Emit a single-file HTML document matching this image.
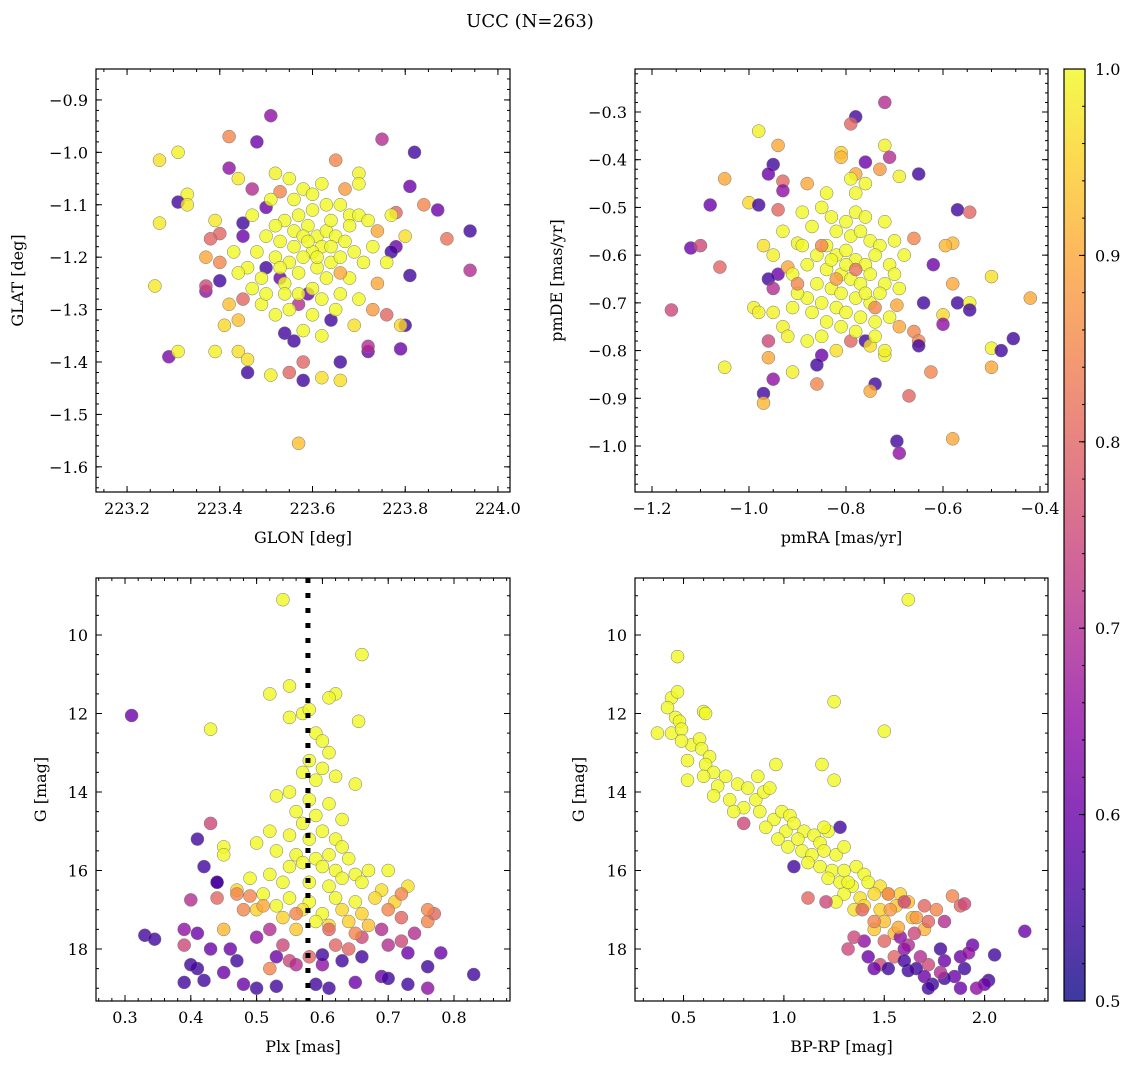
<!DOCTYPE html>
<html><head><meta charset="utf-8"><style>
html,body{margin:0;padding:0;background:#fff}
svg{display:block;font-family:"DejaVu Serif","Liberation Serif",serif}
</style></head><body>
<svg id="fig" width="1136" height="1068" viewBox="0 0 1136 1068" xmlns="http://www.w3.org/2000/svg">
<text x="530" y="27" font-size="18" text-anchor="middle">UCC (N=263)</text>
</svg>
<script>
// ---- data: [x, y, prob] (prob defaults to 1.0) ----
const posData = [
[223.51,-0.93,0.65],[223.75,-0.975,0.7],[223.42,-0.97,0.85],[223.48,-0.98,0.6],[223.27,-1.015,0.97],[223.31,-1.0,0.99],[223.82,-1.0,0.55],[223.65,-1.015,0.85],[223.42,-1.03,0.65],[223.52,-1.04,0.99],[223.70,-1.04,0.99],[223.44,-1.05,0.98],[223.33,-1.08,0.99],[223.81,-1.065,0.6],[223.31,-1.095,0.55],[223.33,-1.10,0.98],[223.53,-1.075,0.85],[223.47,-1.07,0.7],[223.50,-1.105,0.6],[223.84,-1.10,0.85],[223.87,-1.11,0.6],[223.78,-1.115,0.8],[223.27,-1.135,0.98],[223.39,-1.13,0.98],[223.45,-1.135,0.55],[223.94,-1.15,0.55],[223.89,-1.165,0.82],[223.40,-1.155,0.8],[223.38,-1.165,0.8],[223.45,-1.16,0.6],[223.78,-1.18,0.6],[223.80,-1.16,0.97],[223.37,-1.20,0.9],[223.40,-1.21,0.85],[223.77,-1.19,0.55],[223.94,-1.225,0.7],[223.26,-1.255,0.98],[223.37,-1.265,0.65],[223.37,-1.255,0.75],[223.40,-1.245,0.55],[223.50,-1.22,0.55],[223.53,-1.24,0.6],[223.81,-1.235,0.55],[223.80,-1.33,0.55],[223.73,-1.30,0.88],[223.76,-1.31,0.8],[223.59,-1.27,0.6],[223.57,-1.29,0.7],[223.45,-1.28,0.8],[223.42,-1.29,0.93],[223.41,-1.33,0.96],[223.44,-1.32,0.93],[223.79,-1.33,0.96],[223.64,-1.32,0.55],[223.69,-1.33,0.97],[223.54,-1.345,0.55],[223.56,-1.36,0.55],[223.39,-1.38,0.99],[223.44,-1.38,0.97],[223.46,-1.395,0.97],[223.29,-1.39,0.62],[223.31,-1.38,0.99],[223.72,-1.38,0.6],[223.72,-1.37,0.7],[223.79,-1.375,0.6],[223.66,-1.40,0.55],[223.58,-1.40,0.8],[223.46,-1.42,0.55],[223.51,-1.425,0.99],[223.55,-1.42,0.8],[223.58,-1.435,0.55],[223.62,-1.43,0.97],[223.66,-1.435,0.97],[223.57,-1.555,0.93],
[223.55,-1.05],[223.58,-1.07],[223.60,-1.08],[223.62,-1.06],[223.56,-1.09],[223.63,-1.10],[223.66,-1.10],[223.68,-1.12],[223.70,-1.12],[223.72,-1.13],[223.60,-1.11],[223.57,-1.12],[223.54,-1.13],[223.52,-1.14],[223.50,-1.16],[223.53,-1.17],[223.56,-1.15],[223.59,-1.14],[223.61,-1.16],[223.63,-1.15],[223.65,-1.16],[223.67,-1.17],[223.62,-1.18],[223.60,-1.19],[223.58,-1.20],[223.55,-1.21],[223.52,-1.20],[223.48,-1.19],[223.46,-1.22],[223.49,-1.24],[223.54,-1.25],[223.57,-1.23],[223.61,-1.22],[223.64,-1.21],[223.66,-1.20],[223.69,-1.19],[223.71,-1.21],[223.73,-1.18],[223.63,-1.24],[223.60,-1.26],[223.57,-1.27],[223.62,-1.28],[223.66,-1.27],[223.68,-1.24],[223.65,-1.30],[223.60,-1.31],[223.55,-1.30],[223.52,-1.31],[223.49,-1.29],[223.47,-1.26],[223.44,-1.23],[223.43,-1.19],[223.47,-1.12],[223.51,-1.09],[223.58,-1.16],[223.64,-1.13],[223.74,-1.25,0.9],[223.70,-1.28],[223.58,-1.34],[223.62,-1.35],[223.53,-1.22],[223.59,-1.17],[223.61,-1.20],[223.66,-1.23,0.9],[223.68,-1.14],[223.56,-1.18],[223.54,-1.27],[223.50,-1.27],[223.70,-1.06],[223.67,-1.07,0.88],[223.76,-1.21],[223.74,-1.15,0.9],[223.77,-1.12],[223.64,-1.18]
];
const pmData = [
[-0.78,-0.31,0.55],[-0.72,-0.28,0.7],[-0.79,-0.325,0.8],[-0.98,-0.34,0.99],[-0.94,-0.37,0.9],[-0.81,-0.385,0.95],[-0.81,-0.395,0.92],[-0.72,-0.37,0.99],[-0.71,-0.395,0.7],[-0.95,-0.41,0.55],[-0.96,-0.43,0.6],[-0.76,-0.405,0.6],[-0.65,-0.43,0.55],[-0.69,-0.435,0.99],[-1.05,-0.44,0.9],[-0.93,-0.445,0.8],[-0.78,-0.43,0.9],[-0.93,-0.465,0.65],[-0.88,-0.45,0.9],[-1.08,-0.495,0.6],[-1.0,-0.49,0.96],[-0.98,-0.495,0.55],[-0.57,-0.505,0.55],[-0.545,-0.51,0.8],[-0.94,-0.505,0.8],[-1.12,-0.585,0.6],[-1.10,-0.58,0.75],[-1.06,-0.625,0.8],[-0.97,-0.58,0.97],[-0.94,-0.64,0.6],[-0.96,-0.65,0.55],[-0.62,-0.62,0.6],[-0.66,-0.565,0.85],[-0.58,-0.575,0.92],[-0.595,-0.58,0.92],[-0.5,-0.645,0.97],[-0.58,-0.66,0.9],[-0.57,-0.70,0.55],[-0.545,-0.70,0.99],[-0.545,-0.715,0.55],[-0.6,-0.725,0.96],[-0.6,-0.745,0.65],[-0.64,-0.70,0.55],[-0.695,-0.705,0.9],[-0.66,-0.76,0.85],[-0.65,-0.78,0.85],[-0.65,-0.79,0.55],[-0.5,-0.795,0.99],[-0.48,-0.80,0.55],[-0.455,-0.775,0.55],[-0.42,-0.69,0.9],[-0.5,-0.835,0.9],[-0.625,-0.845,0.85],[-0.74,-0.87,0.55],[-0.75,-0.885,0.9],[-0.67,-0.895,0.8],[-0.58,-0.985,0.9],[-0.695,-0.99,0.55],[-0.69,-1.015,0.65],[-1.16,-0.715,0.75],[-1.05,-0.835,0.99],[-0.97,-0.89,0.55],[-0.97,-0.91,0.92],[-0.95,-0.86,0.65],[-0.96,-0.815,0.9],[-0.96,-0.78,0.75],[-0.95,-0.72,0.99],[-0.99,-0.71,0.99],[-0.98,-0.72,0.99],[-0.91,-0.845,0.99],[-0.86,-0.87,0.85],[-0.85,-0.81,0.6],[-0.86,-0.83,0.55],[-0.82,-0.80,0.97],[-0.72,-0.81,0.99],[-0.72,-0.80,0.99],[-0.76,-0.78,0.55],[-0.75,-0.79,0.97],[-0.79,-0.78,0.8],[-0.95,-0.67,0.7],[-0.95,-0.60,0.99],[-0.92,-0.625,0.9],[-0.90,-0.575,0.99],[-0.93,-0.75,0.99],[-0.92,-0.77,0.99],
[-0.85,-0.50],[-0.83,-0.52],[-0.80,-0.53],[-0.78,-0.51],[-0.76,-0.52],[-0.82,-0.55],[-0.79,-0.56],[-0.77,-0.55],[-0.75,-0.57],[-0.73,-0.58],[-0.84,-0.58],[-0.86,-0.60],[-0.82,-0.60],[-0.80,-0.59],[-0.78,-0.61],[-0.76,-0.62],[-0.74,-0.60],[-0.71,-0.62],[-0.88,-0.62],[-0.84,-0.63],[-0.81,-0.64],[-0.79,-0.65],[-0.77,-0.66],[-0.75,-0.64],[-0.72,-0.66],[-0.70,-0.64],[-0.86,-0.66],[-0.83,-0.67],[-0.81,-0.68],[-0.78,-0.69],[-0.75,-0.70],[-0.73,-0.68],[-0.88,-0.69],[-0.85,-0.70],[-0.82,-0.71],[-0.80,-0.72],[-0.77,-0.73],[-0.74,-0.74],[-0.84,-0.74],[-0.81,-0.75],[-0.78,-0.76],[-0.87,-0.72],[-0.90,-0.68],[-0.91,-0.64],[-0.89,-0.58],[-0.87,-0.54],[-0.84,-0.47],[-0.78,-0.47],[-0.76,-0.45],[-0.79,-0.44],[-0.72,-0.53],[-0.70,-0.57],[-0.68,-0.60],[-0.69,-0.67],[-0.71,-0.73],[-0.74,-0.77],[-0.85,-0.77],[-0.88,-0.78],[-0.91,-0.71],[-0.93,-0.55],[-0.89,-0.51],[-0.80,-0.62],[-0.83,-0.61],[-0.76,-0.68],
[-0.85,-0.58,0.85],[-0.82,-0.65,0.88],[-0.74,-0.71,0.85],[-0.78,-0.63,0.82],[-0.90,-0.66,0.85],[-0.69,-0.75,0.9],[-0.73,-0.42,0.88]
];
const plxData = [
[0.54,9.1],[0.66,10.5],[0.55,11.3],[0.52,11.5],[0.62,11.5],[0.61,11.6],[0.55,12.1],[0.57,12.0],[0.58,11.9],[0.655,12.2],[0.43,12.4],[0.59,12.5],[0.60,12.7],[0.61,13.0],[0.58,13.2],[0.60,13.4],[0.57,13.5],[0.59,13.7],[0.62,13.6],[0.65,13.8],[0.55,14.0],[0.53,14.1],[0.58,14.2],[0.61,14.3],[0.56,14.5],[0.59,14.6],[0.63,14.7],[0.57,14.8],[0.52,15.0],[0.55,15.1],[0.58,15.2],[0.60,15.0],[0.62,15.2],[0.63,15.4],[0.50,15.3],[0.45,15.4],[0.53,15.5],[0.56,15.6],[0.59,15.7],[0.61,15.6],[0.64,15.7],[0.57,15.8],[0.55,15.9],[0.60,15.9],[0.62,16.0],[0.65,16.1],[0.67,16.0],[0.70,16.0],[0.52,16.1],[0.49,16.2],[0.54,16.3],[0.58,16.3],[0.61,16.4],[0.63,16.2],[0.66,16.3],[0.69,16.5,0.97],[0.73,16.4,0.97],[0.47,16.5,0.96],[0.51,16.6],[0.55,16.7],[0.58,16.8],[0.62,16.7],[0.65,16.8],[0.68,16.7,0.96],[0.71,16.8,0.95],[0.53,16.9],[0.57,17.0,0.97],[0.60,17.1],[0.63,17.0,0.96],[0.66,17.1,0.95],[0.50,17.0,0.95],[0.54,17.2,0.95],[0.59,17.3],[0.61,17.4,0.96],[0.64,17.3,0.95],[0.56,17.5,0.94],[0.67,17.4,0.93],[0.45,15.6],[0.44,16.3,0.6],
[0.31,12.05,0.6],[0.43,14.8,0.75],[0.41,15.2,0.55],[0.42,15.9,0.55],[0.44,16.3,0.55],[0.44,16.7,0.8],[0.40,16.75,0.7],[0.47,16.6,0.85],[0.49,16.65,0.85],[0.48,17.0,0.85],[0.45,17.5,0.92],[0.39,17.5,0.65],[0.41,17.6,0.6],[0.39,17.9,0.75],[0.33,17.65,0.55],[0.345,17.75,0.55],[0.43,18.0,0.6],[0.46,18.0,0.6],[0.50,17.7,0.65],[0.52,17.5,0.7],[0.54,17.9,0.75],[0.53,18.2,0.6],[0.55,18.3,0.75],[0.56,18.4,0.7],[0.52,18.5,0.85],[0.47,18.3,0.55],[0.45,18.6,0.6],[0.41,18.5,0.55],[0.40,18.4,0.55],[0.42,18.8,0.55],[0.39,18.85,0.55],[0.48,18.9,0.6],[0.50,19.0,0.55],[0.53,18.95,0.55],[0.58,18.2,0.8],[0.60,18.4,0.65],[0.60,18.15,0.55],[0.62,17.9,0.8],[0.64,18.0,0.8],[0.63,18.3,0.55],[0.66,17.7,0.75],[0.66,18.2,0.55],[0.69,17.5,0.7],[0.70,17.9,0.7],[0.72,17.8,0.75],[0.73,18.1,0.6],[0.74,17.6,0.7],[0.76,17.3,0.85],[0.77,17.1,0.8],[0.76,17.0,0.85],[0.78,18.1,0.6],[0.72,17.2,0.8],[0.72,16.6,0.85],[0.70,17.0,0.85],[0.69,18.7,0.6],[0.70,18.75,0.55],[0.73,18.9,0.55],[0.76,19.0,0.65],[0.76,18.45,0.55],[0.83,18.65,0.55],[0.59,18.9,0.55],[0.61,19.0,0.55],[0.65,18.85,0.6],[0.61,17.5,0.8],[0.65,17.6,0.85],[0.56,17.1,0.85],[0.51,16.9,0.9]
];
const cmdData = [
[1.62,9.1],[0.47,10.55],[0.44,11.6],[0.47,11.45],[0.42,11.85],[1.25,11.7],[0.60,11.95],[0.61,12.0],[0.46,12.1],[0.48,12.2],[0.37,12.5],[0.44,12.5],[0.49,12.4],[1.50,12.45],[0.54,12.8],[0.58,12.65],[0.49,12.7],[0.59,12.9],[0.63,13.1],[0.61,13.3],[0.52,13.2],[0.96,13.3],[1.19,13.3],[0.65,13.5],[0.71,13.6],[0.77,13.8],[0.60,13.6],[0.67,13.85],[0.52,13.7],[1.25,13.7],[0.87,13.6],[0.82,13.9],[0.65,14.1],[0.73,14.2],[0.80,14.4],[0.86,14.2],[0.90,14.0],[0.93,13.9],[0.88,14.5],[0.75,14.5],[0.95,14.7],[0.99,14.5],[1.03,14.6],[0.91,14.9],[1.01,15.0],[1.05,14.8],[1.10,15.0],[0.97,15.2],[1.07,15.2],[1.15,15.1],[1.18,15.3],[1.22,15.0],[1.20,14.9],[1.02,15.4],[1.09,15.5],[1.14,15.6],[1.20,15.5],[1.26,15.6],[1.30,15.4],[1.12,15.8],[1.18,15.9],[1.24,16.0],[1.30,16.0],[1.36,15.9],[1.40,16.1],[1.22,16.2],[1.28,16.3],[1.34,16.4],[1.42,16.3],[1.48,16.4,0.97],[1.30,16.6],[1.38,16.7,0.97],[1.45,16.6,0.96],[1.52,16.6,0.95],[1.58,16.6,0.95],[1.40,16.9,0.96],[1.48,17.0,0.95],[1.56,16.9,0.94],[1.62,16.8,0.93],[1.35,17.0,0.97],[1.50,17.3,0.93],[1.64,17.2,0.93],[1.70,17.5,0.92],[1.55,17.6,0.92],[1.45,17.5,0.94],[1.32,16.3],[1.26,16.8],
[0.80,14.8,0.75],[1.05,15.9,0.55],[1.12,16.7,0.8],[1.21,16.8,0.75],[1.28,14.9,0.55],[1.39,17.0,0.8],[1.45,17.3,0.85],[1.52,16.6,0.85],[1.60,16.8,0.75],[1.70,16.9,0.8],[1.76,17.0,0.85],[1.84,16.65,0.85],[1.88,16.9,0.8],[1.80,17.3,0.7],[1.90,16.85,0.75],[1.72,17.3,0.8],[1.65,17.6,0.75],[1.62,17.9,0.7],[1.58,17.7,0.65],[1.50,17.8,0.8],[1.40,17.8,0.65],[1.35,17.7,0.75],[1.32,18.0,0.75],[1.42,18.2,0.6],[1.48,18.4,0.75],[1.55,18.2,0.8],[1.60,18.0,0.65],[1.68,18.2,0.7],[1.72,18.4,0.75],[1.78,18.0,0.55],[1.80,18.3,0.6],[1.85,18.7,0.6],[1.90,18.5,0.55],[1.88,18.2,0.6],[1.94,17.9,0.6],[1.92,18.1,0.65],[2.05,18.15,0.55],[2.20,17.55,0.6],[2.02,18.8,0.55],[2.00,18.9,0.6],[1.96,19.0,0.65],[1.88,19.0,0.6],[1.80,18.75,0.55],[1.74,18.9,0.55],[1.70,18.7,0.6],[1.66,18.5,0.55],[1.62,18.55,0.55],[1.52,18.5,0.55],[1.45,18.5,0.6],[1.72,19.0,0.55],[1.78,18.6,0.7],[1.60,18.3,0.55],[1.53,17.0,0.88],[1.57,17.45,0.9],[1.66,17.2,0.88]
];
const plxLineValue = 0.578;
const tlXTicks = [223.2,223.4,223.6,223.8,224.0];
const tlYTicks = [-0.9,-1.0,-1.1,-1.2,-1.3,-1.4,-1.5,-1.6];
const trXTicks = [-1.2,-1.0,-0.8,-0.6,-0.4];
const trYTicks = [-0.3,-0.4,-0.5,-0.6,-0.7,-0.8,-0.9,-1.0];
const blXTicks = [0.3,0.4,0.5,0.6,0.7,0.8];
const magTicks = [10,12,14,16,18];
const brXTicks = [0.5,1.0,1.5,2.0];
const cbTicks = [0.5,0.6,0.7,0.8,0.9,1.0];

const NS='http://www.w3.org/2000/svg';
const svg=document.getElementById('fig');
function mk(tag,attrs,parent){const e=document.createElementNS(NS,tag);for(const k in attrs)e.setAttribute(k,attrs[k]);(parent||svg).appendChild(e);return e;}
const stops=['#0d0887','#41049d','#6a00a8','#8f0da4','#b12a90','#cc4778','#e16462','#f2844b','#fca636','#fcce25','#f0f921'];
function hex(h){return [1,3,5].map(i=>parseInt(h.substr(i,2),16));}
function plasma(t){t=Math.max(0,Math.min(1,t));const f=t*10,i=Math.min(9,Math.floor(f)),r=f-i;const a=hex(stops[i]),b=hex(stops[i+1]);return 'rgb('+a.map((v,k)=>Math.round(v+(b[k]-v)*r)).join(',')+')';}
const VMIN=0.5,VMAX=1.0;
function fmt(v,d){const s=Math.abs(v).toFixed(d);return (v<0?'\u2212':'')+s;}

function panel(name,box,xd,yd,xt,xm,xdec,yt,ym,ydec,xl,yl,data,ylx){
  const [L,T,R,B]=box;
  const sx=v=>L+(v-xd[0])/(xd[1]-xd[0])*(R-L);
  const sy=v=>T+(v-yd[0])/(yd[1]-yd[0])*(B-T);
  const g=mk('g',{});
  
  
  const clip=mk('clipPath',{id:'c'+name},g);mk('rect',{x:L,y:T,width:R-L,height:B-T},clip);
  const pts=mk('g',{'clip-path':'url(#c'+name+')'},g);
  data.forEach(d=>{const p=d.length>2?d[2]:1.0;
    const c=mk('circle',{cx:sx(d[0]).toFixed(1),cy:sy(d[1]).toFixed(1),r:6.5,fill:plasma((p-VMIN)/(VMAX-VMIN)),'fill-opacity':0.8,stroke:'#777','stroke-width':0.5},pts);
    
    
  });
  g.sx=sx;g.sy=sy;
  const ax=mk('g',{stroke:'#000','stroke-width':1},g);
  const xlo=Math.min(...xd),xhi=Math.max(...xd),ylo=Math.min(...yd),yhi=Math.max(...yd);
  for(let v=Math.ceil(xlo/xm-1e-6)*xm;v<=xhi+1e-9;v+=xm){const x=sx(v);mk('line',{x1:x,x2:x,y1:B,y2:B-3},ax);mk('line',{x1:x,x2:x,y1:T,y2:T+3},ax);}
  for(let v=Math.ceil(ylo/ym-1e-6)*ym;v<=yhi+1e-9;v+=ym){const y=sy(v);mk('line',{x1:L,x2:L+3,y1:y,y2:y},ax);mk('line',{x1:R,x2:R-3,y1:y,y2:y},ax);}
  xt.forEach(v=>{const x=sx(v);mk('line',{x1:x,x2:x,y1:B,y2:B-6},ax);mk('line',{x1:x,x2:x,y1:T,y2:T+6},ax);
    const t=mk('text',{x:x,y:B+22,'font-size':16,'text-anchor':'middle'},g);t.textContent=fmt(v,xdec);
    });
  yt.forEach(v=>{const y=sy(v);mk('line',{x1:L,x2:L+6,y1:y,y2:y},ax);mk('line',{x1:R,x2:R-6,y1:y,y2:y},ax);
    const t=mk('text',{x:L-8,y:y+6,'font-size':16,'text-anchor':'end'},g);t.textContent=fmt(v,ydec);
    });
  const fr=mk('rect',{x:L,y:T,width:R-L,height:B-T,fill:'none',stroke:'#000','stroke-width':1.2},g);
  
  const xlab=mk('text',{x:(L+R)/2,y:B+51,'font-size':16,'text-anchor':'middle'},g);xlab.textContent=xl;
  
  const cy=(T+B)/2;
  const ylab=mk('text',{x:ylx,y:cy,'font-size':16,'text-anchor':'middle',transform:'rotate(-90 '+ylx+' '+cy+')'},g);ylab.textContent=yl;
  
  return g;
}
panel('glon-glat-panel',[96,69,510,492],[223.133,224.026],[-0.841,-1.648],tlXTicks,0.05,1,tlYTicks,0.02,1,'GLON [deg]','GLAT [deg]',posData,23);
panel('pm-panel',[635,69,1048,492],[-1.235,-0.3835],[-0.2099,-1.0964],trXTicks,0.05,1,trYTicks,0.02,1,'pmRA [mas/yr]','pmDE [mas/yr]',pmData,562);
const bl=panel('plx-mag-panel',[96,578,510,1001],[0.2559,0.8851],[8.548,19.325],blXTicks,0.02,1,magTicks,0.5,0,'Plx [mas]','G [mag]',plxData,46);
panel('cmd-panel',[635,578,1048,1001],[0.2582,2.3158],[8.548,19.325],brXTicks,0.1,1,magTicks,0.5,0,'BP-RP [mag]','G [mag]',cmdData,584);
const lx=bl.sx(plxLineValue);
const pl=mk('line',{x1:lx,x2:lx,y1:578,y2:1001,stroke:'#000','stroke-width':5,'stroke-dasharray':'5 10'});



const cbL=1064,cbR=1085,cbT=69,cbB=1001;
const defs=mk('defs',{});
const lg=mk('linearGradient',{id:'cbg',x1:0,y1:1,x2:0,y2:0},defs);
for(let i=0;i<=20;i++){mk('stop',{offset:i/20,'stop-color':plasma(i/20),'stop-opacity':0.8},lg);}
const cb=mk('rect',{x:cbL,y:cbT,width:cbR-cbL,height:cbB-cbT,fill:'url(#cbg)',stroke:'#000','stroke-width':1.2});


const cby=v=>cbB-(v-VMIN)/(VMAX-VMIN)*(cbB-cbT);
for(let v=0.5;v<=1.0001;v+=0.02){mk('line',{x1:cbR,x2:cbR-3,y1:cby(v),y2:cby(v),stroke:'#000'});}
cbTicks.forEach(v=>{mk('line',{x1:cbR,x2:cbR-6,y1:cby(v),y2:cby(v),stroke:'#000'});
  const t=mk('text',{x:cbR+10,y:cby(v)+6,'font-size':16},svg);t.textContent=v.toFixed(1);
  
  });
</script>
</body></html>
